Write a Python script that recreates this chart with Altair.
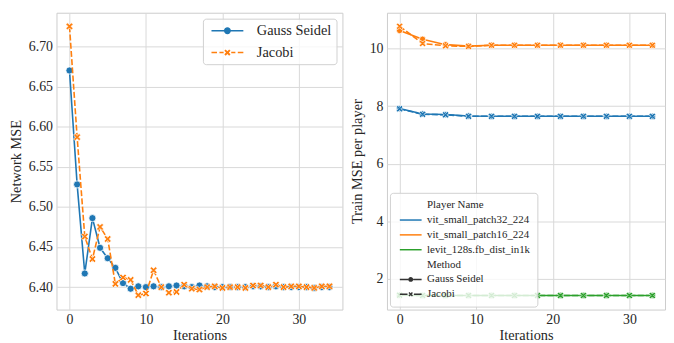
import altair as alt
import pandas as pd

# ---------------- data ----------------
methods = ["Gauss Seidel", "Jacobi"]
iters_left = list(range(35))
gs_network = [6.670, 6.528, 6.417, 6.486, 6.449, 6.436, 6.424, 6.405, 6.398, 6.401,
              6.400, 6.401, 6.400, 6.401, 6.402, 6.401, 6.400, 6.402, 6.401, 6.400,
              6.400, 6.400, 6.400, 6.400, 6.401, 6.401, 6.400, 6.401, 6.400, 6.400,
              6.400, 6.400, 6.399, 6.400, 6.400]
jacobi_network = [6.725, 6.587, 6.463, 6.435, 6.475, 6.460, 6.404, 6.412, 6.409, 6.390,
                  6.392, 6.421, 6.400, 6.393, 6.394, 6.403, 6.398, 6.397, 6.400, 6.401,
                  6.399, 6.400, 6.400, 6.399, 6.402, 6.402, 6.400, 6.403, 6.400, 6.401,
                  6.401, 6.400, 6.399, 6.401, 6.401]

players = ["vit_small_patch32_224", "vit_small_patch16_224", "levit_128s.fb_dist_in1k"]
iters_right = [0, 3, 6, 9, 12, 15, 18, 21, 24, 27, 30, 33]
vit32_gs = [7.92, 7.73, 7.71, 7.66, 7.65, 7.65, 7.65, 7.65, 7.65, 7.65, 7.65, 7.65]
vit32_jacobi = [7.91, 7.72, 7.70, 7.65, 7.65, 7.65, 7.65, 7.65, 7.65, 7.65, 7.65, 7.65]
vit16_gs = [10.63, 10.33, 10.14, 10.09, 10.12, 10.12, 10.12, 10.12, 10.12, 10.12, 10.12, 10.12]
vit16_jacobi = [10.78, 10.18, 10.10, 10.08, 10.12, 10.12, 10.12, 10.12, 10.12, 10.12, 10.12, 10.12]
levit_gs = [1.43, 1.42, 1.42, 1.42, 1.42, 1.42, 1.42, 1.42, 1.42, 1.42, 1.42, 1.42]
levit_jacobi = [1.43, 1.42, 1.42, 1.42, 1.42, 1.42, 1.42, 1.42, 1.42, 1.42, 1.42, 1.42]

legend_right_keys = ["Player Name"] + players + ["Method"] + methods

# ---------------- styles ----------------
method_colors = ["#1f77b4", "#ff7f0e"]
player_colors = ["#1f77b4", "#ff7f0e", "#2ca02c"]
FONT = "Liberation Serif"
X_PATH = ("M-0.55,-1L0,-0.45L0.55,-1L1,-0.55L0.45,0L1,0.55L0.55,1L0,0.45L-0.55,1L-1,0.55L-0.45,0L-1,-0.55Z")
X_SMALL = ("M-0.5,-0.9L0,-0.4L0.5,-0.9L0.9,-0.5L0.4,0L0.9,0.5L0.5,0.9L0,0.4"
           "L-0.5,0.9L-0.9,0.5L-0.4,0L-0.9,-0.5Z")
CIRCLE = "M1,0A1,1 0 1,1 -1,0A1,1 0 1,1 1,0Z"
GS_LEG_L = "M-4.6,-0.21H-0.9V0.21H-4.6Z M0.9,-0.21H4.6V0.21H0.9Z " + CIRCLE
J_LEG_L = ("M-4.6,-0.21H-3.0V0.21H-4.6Z M-2.3,-0.21H-1.1V0.21H-2.3Z "
           "M1.1,-0.21H2.3V0.21H1.1Z M3.0,-0.21H4.6V0.21H3.0Z " + X_SMALL)
LINE_R = "M-4.4,-0.3H4.4V0.3H-4.4Z"
GS_LEG_R = "M-4.4,-0.3H-1V0.3H-4.4Z M1,-0.3H4.4V0.3H1Z " + CIRCLE
J_LEG_R = "M-4.4,-0.3H-1.3V0.3H-4.4Z M1.3,-0.3H4.4V0.3H1.3Z " + X_SMALL
EMPTY = "M0,0Z"
CLEAR = "rgba(0,0,0,0)"
DARK = "#333333"

# ---------------- tables ----------------
df_left = pd.concat([
    pd.DataFrame({"Iteration": iters_left, "Value": gs_network, "Method": methods[0]}),
    pd.DataFrame({"Iteration": iters_left, "Value": jacobi_network, "Method": methods[1]}),
])
right_series = [
    (players[0], methods[0], vit32_gs), (players[0], methods[1], vit32_jacobi),
    (players[1], methods[0], vit16_gs), (players[1], methods[1], vit16_jacobi),
    (players[2], methods[0], levit_gs), (players[2], methods[1], levit_jacobi),
]
df_right = pd.concat([
    pd.DataFrame({"Iteration": iters_right, "Value": vals, "Player Name": p, "Method": m})
    for p, m, vals in right_series
])

# ---------------- left panel ----------------
xl = alt.X("Iteration:Q", scale=alt.Scale(domain=[-1.7, 35.7], nice=False, zero=False),
           axis=alt.Axis(values=[0, 10, 20, 30], title="Iterations"))
yl = alt.Y("Value:Q", scale=alt.Scale(domain=[6.372, 6.742], nice=False, zero=False),
           axis=alt.Axis(values=[6.40, 6.45, 6.50, 6.55, 6.60, 6.65, 6.70], format=".2f",
                         title="Network MSE"))
cl = alt.Color("Method:N", scale=alt.Scale(domain=methods, range=method_colors), legend=None)
base_l = alt.Chart(df_left).encode(x=xl, y=yl, color=cl)
gs_l = base_l.transform_filter(alt.datum.Method == methods[0])
j_l = base_l.transform_filter(alt.datum.Method == methods[1])

leg_l = alt.Legend(orient="top-right", offset=6, padding=5, rowPadding=7,
                   labelFontSize=14.5, symbolSize=49, symbolOffset=12.5, labelOffset=22.5,
                   fillColor="rgba(255,255,255,0.8)", strokeColor="#d0d0d0", cornerRadius=3)
legend_layer_l = alt.Chart(pd.DataFrame({"Key": methods})).transform_filter("false").mark_point(
    filled=True, opacity=1).encode(
    shape=alt.Shape("Key:N", scale=alt.Scale(domain=methods, range=[GS_LEG_L, J_LEG_L]),
                    title=None, legend=leg_l),
    color=alt.Color("Key:N", scale=alt.Scale(domain=methods, range=method_colors),
                    title=None, legend=leg_l),
)

left = alt.layer(
    gs_l.mark_line(strokeWidth=1.6),
    gs_l.mark_point(shape="circle", filled=True, size=52, stroke="white", strokeWidth=0.8, opacity=1),
    j_l.mark_line(strokeWidth=1.6, strokeDash=[6, 2.3]),
    j_l.mark_point(shape=X_PATH, filled=True, size=52, stroke="white", strokeWidth=0.7, opacity=1),
    legend_layer_l,
).resolve_scale(color="independent", shape="independent").properties(width=289, height=300)

# ---------------- right panel ----------------
xr = alt.X("Iteration:Q", scale=alt.Scale(domain=[-1.65, 34.65], nice=False, zero=False),
           axis=alt.Axis(values=[0, 10, 20, 30], title="Iterations"))
yr = alt.Y("Value:Q", scale=alt.Scale(domain=[0.93, 11.25], nice=False, zero=False),
           axis=alt.Axis(values=[2, 4, 6, 8, 10], title="Train MSE per player"))
cr = alt.Color("Player Name:N", scale=alt.Scale(domain=players, range=player_colors), legend=None)
base_r = alt.Chart(df_right).encode(x=xr, y=yr, color=cr, detail="Player Name:N")
gs_r = base_r.transform_filter(alt.datum.Method == methods[0])
j_r = base_r.transform_filter(alt.datum.Method == methods[1])

leg_r = alt.Legend(orient="bottom-left", offset=3, padding=7, rowPadding=3,
                   labelFontSize=11, symbolSize=25, symbolOffset=8.5, labelOffset=11,
                   fillColor="rgba(255,255,255,0.8)", strokeColor="#d0d0d0", cornerRadius=3)
legend_layer_r = alt.Chart(pd.DataFrame({"Key": legend_right_keys})).transform_filter("false").mark_point(
    filled=True, opacity=1).encode(
    shape=alt.Shape("Key:N", scale=alt.Scale(domain=legend_right_keys,
                    range=[EMPTY, LINE_R, LINE_R, LINE_R, EMPTY, GS_LEG_R, J_LEG_R]),
                    title=None, legend=leg_r),
    color=alt.Color("Key:N", scale=alt.Scale(domain=legend_right_keys,
                    range=[CLEAR] + player_colors + [CLEAR, DARK, DARK]),
                    title=None, legend=leg_r),
)

right = alt.layer(
    gs_r.mark_line(strokeWidth=1.6),
    gs_r.mark_point(shape="circle", filled=True, size=40, stroke="white", strokeWidth=0.8, opacity=1),
    j_r.mark_line(strokeWidth=1.6, strokeDash=[6, 2.3]),
    j_r.mark_point(shape=X_PATH, filled=True, size=46, stroke="white", strokeWidth=0.7, opacity=1),
    legend_layer_r,
).resolve_scale(color="independent", shape="independent").properties(width=281, height=300)

chart = alt.hconcat(left, right, spacing=5).resolve_scale(
    color="independent", shape="independent"
).properties(
    padding={"left": 0, "top": 2, "right": 0, "bottom": 0}
).configure(font=FONT).configure_view(
    stroke="#cccccc", strokeWidth=1
).configure_axis(
    labelFont=FONT, titleFont=FONT, labelFontSize=14, titleFontSize=14.5,
    titleFontWeight="normal", labelColor="#262626", titleColor="#262626",
    grid=True, gridColor="#d9d9d9", gridWidth=1, domain=False, ticks=False,
    labelPadding=4, labelFlush=False,
).configure_axisX(titlePadding=2, labelPadding=3).configure_axisY(titlePadding=5).configure_legend(
    labelFont=FONT, labelColor="#262626"
)

chart.save("out.html", embed_options={"renderer": "svg", "actions": False})
